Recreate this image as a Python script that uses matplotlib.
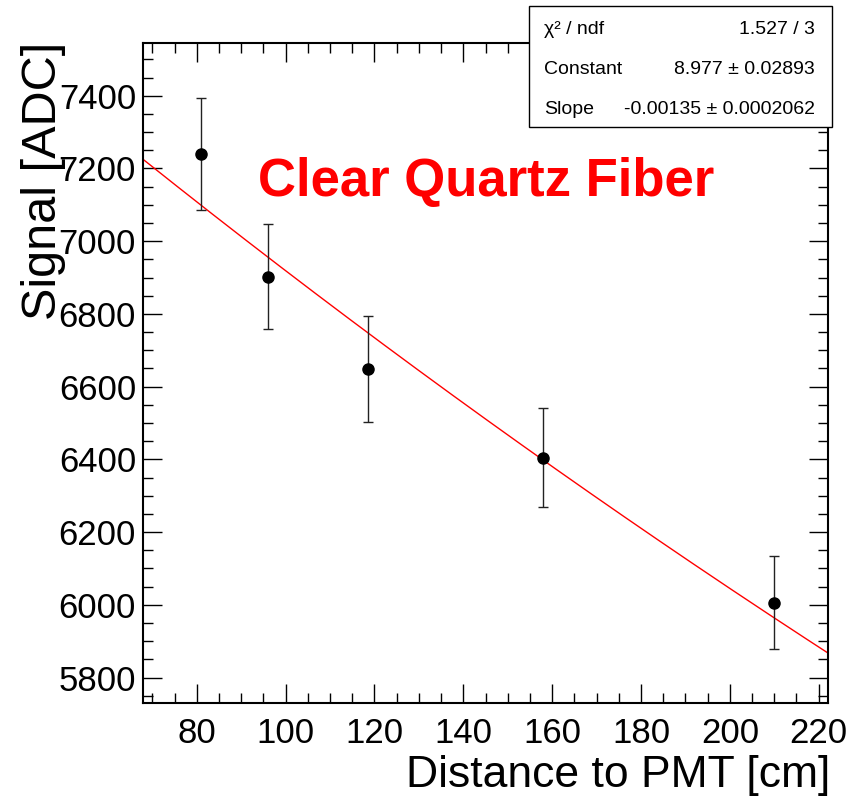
import matplotlib
matplotlib.use("Agg")
import matplotlib.pyplot as plt
import numpy as np
from matplotlib.ticker import MultipleLocator
from matplotlib.patches import Rectangle

plt.rcParams['font.family'] = ['Liberation Sans', 'DejaVu Sans']

# measured points
distance = [81, 96, 118.5, 158, 210]
signal = [7240, 6902, 6649, 6404, 6006]
signal_err = [154, 144, 146, 136, 127]

# expo fit result (from stats box)
fit_const = 8.977
fit_slope = -0.00135
chi2_ndf = "1.527 / 3"
const_txt = "8.977 \u00b1 0.02893"
slope_txt = "-0.00135 \u00b1 0.0002062"

xlim = (67.9, 222.1)
ylim = (5730, 7545)

fig = plt.figure(figsize=(8.68, 7.96), dpi=100)
ax = fig.add_axes([143/868, 93/796, 685/868, 660/796])

xs = np.linspace(xlim[0], xlim[1], 200)
ax.plot(xs, np.exp(fit_const + fit_slope * xs), color="red", lw=1.0, zorder=2)
ax.errorbar(distance, signal, yerr=signal_err, fmt="o", color="black",
            ms=8, elinewidth=1.0, ecolor="#222222", capsize=3.5, capthick=1.0, zorder=3)

ax.set_xlim(*xlim)
ax.set_ylim(*ylim)
ax.xaxis.set_major_locator(MultipleLocator(20))
ax.xaxis.set_minor_locator(MultipleLocator(5))
ax.yaxis.set_major_locator(MultipleLocator(200))
ax.yaxis.set_minor_locator(MultipleLocator(50))
ax.tick_params(which="both", direction="in", top=True, right=True, width=1.0, labelsize=25)
ax.tick_params(which="major", length=14)
ax.tick_params(which="minor", length=7)
ax.tick_params(axis="x", pad=10)
ax.tick_params(axis="y", pad=5)
for s in ax.spines.values():
    s.set_linewidth(1.5)

fig.text(830/868, 1 - 787/796, "Distance to PMT [cm]", ha="right", va="baseline", fontsize=32)
fig.text(43/868, 1 - 42/796, "Signal [ADC]", rotation=90, ha="center", va="top", fontsize=35)

fig.text(258/868, 1 - 196/796, "Clear Quartz Fiber", color="red", fontsize=38,
         fontweight="bold", ha="left", va="baseline")

# stats box
fig.patches.append(Rectangle((529/868, 1 - 127/796), 303/868, 121/796, transform=fig.transFigure,
                             facecolor="white", edgecolor="black", lw=1.0, zorder=5))
rows = [("\u03c7\u00b2 / ndf", chi2_ndf), ("Constant", const_txt), ("Slope", slope_txt)]
for i, (name, val) in enumerate(rows):
    yy = 1 - (30 + 39.5 * i) / 796
    fig.text(544/868, yy, name, fontsize=14, ha="left", va="center", zorder=6)
    fig.text(815/868, yy, val, fontsize=14, ha="right", va="center", zorder=6)

fig.savefig("out.png", dpi=100)
